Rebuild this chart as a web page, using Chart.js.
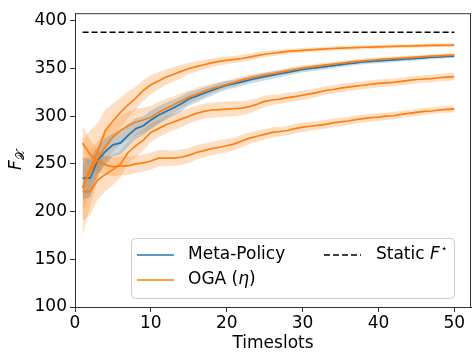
<!DOCTYPE html>
<html>
<head>
<meta charset="utf-8">
<script src="https://cdn.jsdelivr.net/npm/chart.js@4.4.1/dist/chart.umd.min.js"></script>
<style>
  html, body { margin: 0; padding: 0; background: #fff; }
  #wrap { width: 472px; height: 354px; }
</style>
</head>
<body>
<div id="wrap"><canvas id="chart" width="472" height="354"></canvas></div>
<script>
// x axis
const timeslots = [1,2,3,4,5,6,7,8,9,10,11,12,13,14,15,16,17,18,19,20,21,22,23,24,25,
  26,27,28,29,30,31,32,33,34,35,36,37,38,39,40,41,42,43,44,45,46,47,48,49,50];

// Meta-Policy mean and half-width of the shaded band
const metaPolicy = [235,235,254,263,270,272,280,287,290,296, 301,305,309,313,318,321,324,327,330,332.5,
  334,336,338,340,341.5,343,344.5,346,347.5,349, 350,351,352,353,354,355,356,357,357.5,358,
  358.5,359,359.5,360,360.6,361.2,361.8,362.3,362.7,363];
const metaPolicySpread = [22,20,15,14,12,12,12,11,10,10, 9.5,9,8.5,8,7,6.5,6,5.5,5,4.5,
  4.3,4.1,4,4,4,3.8,3.6,3.4,3.2,3, 3,3,2.9,2.8,2.7,2.6,2.5,2.5,2.5,2.5, 2.4,2.3,2.2,2.2,2.1,2,2,2,2,2];

// OGA with four step sizes (all drawn in the same colour, one legend entry)
const ogaRun1 = [225,245,263,285,295,304,312,319,327,333, 337,341,344,347,350,352,354,356,357.5,358.5,
  359.5,360.5,362,363.5,365,366,367,368,368.5,369, 369.5,370,370.5,371,371.3,371.6,372,372.3,372.5,372.7,
  373,373.2,373.4,373.6,373.8,374,374.2,374.3,374.4,374.5];
const ogaRun1Spread = [50,40,30,22,18,16,14,12,11,10, 9,8,7.5,7,6,5.5,5,4.5,4.2,4,
  3.8,3.6,3.4,3.2,3,3,2.8,2.7,2.6,2.5, 2.5,2.4,2.3,2.3,2.2,2.2,2.1,2.1,2,2, 2,2,2,2,2,2,2,2,2,2];

const ogaRun2 = [225,242,256,268,278,285,290,294,296,299, 304,308,312,316,320,323,326,329,331,333.5,
  335.5,338,340,341.5,343,344.5,346,347.5,349,350.5, 351.5,352.5,353.5,354.5,355.5,356.5,357.3,358,358.7,359.3,
  360,360.5,361,361.5,362,362.5,363,363.3,363.7,364];
const ogaRun2Spread = [25,22,18,16,15,15,15,14,13,12, 11,10,9,8,7,6.5,6,5,4.5,4,
  4,3.8,3.6,3.4,3.2,3,3,3,3,3, 2.8,2.7,2.6,2.5,2.5,2.4,2.4,2.3,2.3,2.2, 2.2,2.2,2.1,2.1,2,2,2,2,2,2];

const ogaRun3 = [221,221,233,239,244,250,262,269,275,283, 287,291,294,297,300,303,305,306.5,307,307.5,
  308,308.5,310,312.5,315.5,317,318,319.5,320.5,322, 323.5,325,327,328,329.5,330.5,331.5,332.5,333.5,334.5,
  335,335.5,336.5,337.5,338.5,339,339.5,340.3,341,341.6];
const ogaRun3Spread = [30,25,20,18,16,14,12,12,11,10, 9,9,8.5,8.5,8,8,8,8,8,8,
  8,7.5,7,6.5,6,5.5,5,5,5,5, 4.8,4.7,4.6,4.5,4.5,4.4,4.3,4.2,4.2,4.1, 4,4,4,4,4,4,4,4,4,4];

const ogaRun4 = [272,260,253,249,247,248,248,250,251,253, 256,256,256,257,259,262,264,266,267.5,269,
  271,274,277,279,281,283,284,285,287,288.5, 289.5,290.5,291.5,293,294,295,296.5,297.5,298.5,299,
  300,300.5,302,303,304,305,305.5,306.5,307.2,307.7];
const ogaRun4Spread = [18,15,12,10,10,10,9.5,9,9,9, 8.5,8.5,8,8,8,7.5,7.5,7,7,7,
  6.5,6.5,6,6,5.5,5.5,5,5,5,5, 4.8,4.7,4.6,4.5,4.4,4.3,4.2,4.1,4,4, 4,3.9,3.8,3.7,3.6,3.5,3.5,3.5,3.5,3.5];

const staticF = 388;
const staticRange = [1, 50];

const xTicks = [0, 10, 20, 30, 40, 50];
const yTicks = [100, 150, 200, 250, 300, 350, 400];

const BLUE = "#1f77b4";
const ORANGE = "#ff7f0e";
const FONT = "'DejaVu Sans', sans-serif";

const pts = (ys, sp, sign) => ys.map((v, i) => ({ x: timeslots[i], y: v + (sp ? sign * sp[i] : 0) }));

const series = [
  { label: "Meta-Policy", mean: metaPolicy, spread: metaPolicySpread, color: BLUE, fill: "rgba(31,119,180,0.25)" },
  { label: "OGA (η)", mean: ogaRun1, spread: ogaRun1Spread, color: ORANGE, fill: "rgba(255,127,14,0.25)" },
  { label: "OGA (η)", mean: ogaRun2, spread: ogaRun2Spread, color: ORANGE, fill: "rgba(255,127,14,0.25)" },
  { label: "OGA (η)", mean: ogaRun3, spread: ogaRun3Spread, color: ORANGE, fill: "rgba(255,127,14,0.25)" },
  { label: "OGA (η)", mean: ogaRun4, spread: ogaRun4Spread, color: ORANGE, fill: "rgba(255,127,14,0.25)" },
];

const datasets = [];
series.forEach((s, k) => {
  // band: upper filled down to the lower one right after it
  datasets.push({ data: pts(s.mean, s.spread, 1), fill: "+1", backgroundColor: s.fill,
    borderWidth: 0, pointRadius: 0, order: 10 });
  datasets.push({ data: pts(s.mean, s.spread, -1), fill: false,
    borderWidth: 0, pointRadius: 0, order: 10 });
  datasets.push({ label: s.label, data: pts(s.mean), borderColor: s.color, borderWidth: 1.7,
    pointRadius: 0, fill: false, tension: 0, order: k === 0 ? 2 : 1 });
});
datasets.push({ label: "Static F*", data: staticRange.map(x => ({ x, y: staticF })),
  borderColor: "#000", borderWidth: 1.5, borderDash: [6, 3], pointRadius: 0, fill: false, order: 0 });

// frame, legend box, axis titles
const extras = {
  id: "extras",
  afterDraw(chart) {
    const { ctx, chartArea: a } = chart;
    ctx.save();
    ctx.strokeStyle = "#333";
    ctx.lineWidth = 1;
    ctx.strokeRect(a.left + 0.5, a.top + 0.5, a.right - a.left - 1, a.bottom - a.top);

    // legend
    const lx = 131.5, ly = 238.5, lw = 323, lh = 60;
    ctx.beginPath();
    ctx.roundRect(lx, ly, lw, lh, 4);
    ctx.fillStyle = "rgba(255,255,255,0.8)";
    ctx.fill();
    ctx.strokeStyle = "#cccccc";
    ctx.stroke();

    const row1 = 255, row2 = 280;
    const handle = (x0, y, color, dash) => {
      ctx.beginPath();
      ctx.setLineDash(dash || []);
      ctx.strokeStyle = color;
      ctx.lineWidth = dash ? 1.5 : 1.7;
      ctx.moveTo(x0, y); ctx.lineTo(x0 + 37, y);
      ctx.stroke();
      ctx.setLineDash([]);
    };
    handle(137, row1, BLUE);
    handle(137, row2, ORANGE);
    handle(324, row1, "#000", [6, 3]);

    ctx.fillStyle = "#000";
    ctx.textBaseline = "middle";
    ctx.font = "17px " + FONT;
    ctx.fillText("Meta-Policy", 188, row1);
    let x = 188;
    ctx.fillText("OGA (", x, row2); x += ctx.measureText("OGA (").width;
    ctx.font = "italic 17px " + FONT;
    ctx.fillText("η", x, row2); x += ctx.measureText("η").width;
    ctx.font = "17px " + FONT;
    ctx.fillText(")", x, row2);

    x = 376;
    ctx.fillText("Static ", x, row1); x += ctx.measureText("Static ").width;
    ctx.font = "italic 17px " + FONT;
    ctx.fillText("F", x, row1); x += ctx.measureText("F").width + 1;
    ctx.font = "11px " + FONT;
    ctx.fillText("⋆", x, row1 - 6);

    // x title
    ctx.font = "17px " + FONT;
    ctx.textAlign = "center";
    ctx.fillText("Timeslots", (a.left + a.right) / 2, 344);
    ctx.textAlign = "left";

    // y label, rotated
    ctx.translate(21, (a.top + a.bottom) / 2);
    ctx.rotate(-Math.PI / 2);
    ctx.textBaseline = "alphabetic";
    ctx.font = "italic 17px " + FONT;
    const fw = ctx.measureText("F").width;
    ctx.font = "12px " + FONT;
    const sw = ctx.measureText("𝒳").width;
    const start = -(fw + sw) / 2;
    ctx.font = "italic 17px " + FONT;
    ctx.fillText("F", start, 0);
    ctx.font = "12px " + FONT;
    ctx.fillText("𝒳", start + fw, 3);
    ctx.restore();
  }
};

new Chart(document.getElementById("chart"), {
  type: "line",
  data: { datasets },
  options: {
    responsive: false,
    animation: false,
    devicePixelRatio: 1,
    layout: { padding: { top: 10, right: 1, left: 0, bottom: 0 } },
    plugins: { legend: { display: false }, tooltip: { enabled: false } },
    scales: {
      x: {
        type: "linear", min: 0, max: 52.2,
        afterBuildTicks: s => { s.ticks = xTicks.map(v => ({ value: v })); },
        afterFit: s => { s.height = 47; },
        ticks: { font: { family: FONT, size: 17 }, color: "#000", padding: 1, maxRotation: 0 },
        grid: { drawOnChartArea: false, tickLength: 5, color: "#333" },
        border: { color: "#333" }
      },
      y: {
        min: 100, max: 408,
        afterBuildTicks: s => { s.ticks = yTicks.map(v => ({ value: v })); },
        afterFit: s => { s.width = 75; },
        ticks: { font: { family: FONT, size: 17 }, color: "#000", padding: 3 },
        grid: { drawOnChartArea: false, tickLength: 5, color: "#333" },
        border: { color: "#333" }
      }
    }
  },
  plugins: [extras]
});
</script>
</body>
</html>
